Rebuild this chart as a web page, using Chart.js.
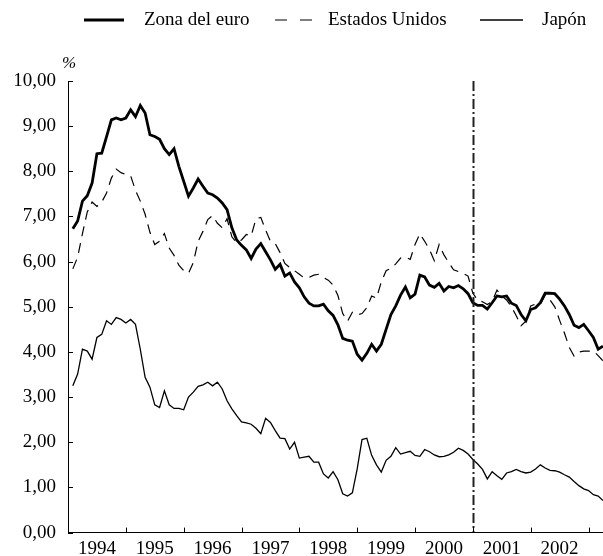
<!DOCTYPE html>
<html lang="es">
<head>
<meta charset="utf-8">
<title>Rendimientos de la deuda pública a largo plazo</title>
<script src="https://cdn.jsdelivr.net/npm/chart.js@4.4.1/dist/chart.umd.min.js"></script>
<style>
  html, body { margin: 0; padding: 0; background: #fff; }
</style>
</head>
<body>
<canvas id="yieldChart" width="603" height="556"></canvas>
<script>
// Datos mensuales, enero 1994 - marzo 2003 (%)
const years = ['1994', '1995', '1996', '1997', '1998', '1999', '2000', '2001', '2002'];
const yTicks = [0, 1, 2, 3, 4, 5, 6, 7, 8, 9, 10];
const euroStart = 84; // enero 2001, en meses desde enero 1994

const zonaEuro = [
  6.73, 6.90, 7.34, 7.46, 7.74, 8.39, 8.40, 8.77, 9.14, 9.18,
  9.14, 9.18, 9.36, 9.21, 9.46, 9.29, 8.81, 8.77, 8.71, 8.50,
  8.37, 8.50, 8.11, 7.78, 7.45, 7.63, 7.83, 7.67, 7.52, 7.48,
  7.41, 7.30, 7.15, 6.75, 6.48, 6.36, 6.26, 6.07, 6.28, 6.40,
  6.22, 6.04, 5.83, 5.94, 5.68, 5.75, 5.55, 5.42, 5.22, 5.08,
  5.02, 5.02, 5.06, 4.91, 4.81, 4.60, 4.30, 4.26, 4.24, 3.95,
  3.82, 3.97, 4.17, 4.02, 4.17, 4.50, 4.83, 5.02, 5.26, 5.44,
  5.20, 5.28, 5.70, 5.66, 5.48, 5.43, 5.52, 5.35, 5.45, 5.42,
  5.47, 5.40, 5.29, 5.09, 5.03, 5.03, 4.95, 5.09, 5.24, 5.22,
  5.24, 5.08, 5.03, 4.83, 4.69, 4.94, 4.98, 5.09, 5.30, 5.30,
  5.29, 5.17, 5.02, 4.83, 4.59, 4.54, 4.61, 4.47, 4.32, 4.06,
  4.13
];

const estadosUnidos = [
  5.84, 6.10, 6.62, 7.10, 7.32, 7.22, 7.32, 7.52, 7.85, 8.05,
  7.97, 7.93, 7.90, 7.58, 7.34, 7.05, 6.65, 6.38, 6.45, 6.62,
  6.30, 6.14, 5.92, 5.80, 5.74, 5.98, 6.45, 6.67, 6.93, 7.02,
  6.85, 6.75, 6.95, 6.55, 6.42, 6.48, 6.60, 6.57, 6.95, 6.98,
  6.70, 6.45, 6.40, 6.20, 5.96, 5.87, 5.80, 5.72, 5.64, 5.65,
  5.70, 5.72, 5.65, 5.59, 5.48, 5.25, 4.85, 4.68, 4.88, 4.82,
  4.85, 4.98, 5.24, 5.19, 5.55, 5.80, 5.85, 5.95, 6.08, 6.10,
  6.05, 6.38, 6.62, 6.45, 6.27, 6.02, 6.38, 6.15, 5.98, 5.82,
  5.78, 5.74, 5.68, 5.30, 5.15, 5.11, 5.05, 5.12, 5.37, 5.24,
  5.15, 5.00, 4.80, 4.58, 4.68, 5.02, 5.06, 5.05, 5.26, 5.15,
  5.00, 4.70, 4.42, 4.10, 3.91, 4.00, 4.02, 4.02, 4.02, 3.92,
  3.80
];

const japon = [
  3.25, 3.51, 4.06, 4.02, 3.84, 4.32, 4.39, 4.69, 4.61, 4.76,
  4.72, 4.64, 4.72, 4.61, 4.06, 3.44, 3.22, 2.83, 2.77, 3.14,
  2.83, 2.75, 2.75, 2.72, 3.00, 3.11, 3.24, 3.27, 3.33, 3.25,
  3.33, 3.18, 2.92, 2.74, 2.59, 2.45, 2.43, 2.40, 2.31, 2.19,
  2.53, 2.44, 2.26, 2.09, 2.08, 1.85, 2.00, 1.65, 1.67, 1.69,
  1.56, 1.56, 1.30, 1.21, 1.35, 1.17, 0.86, 0.81, 0.88, 1.41,
  2.06, 2.09, 1.71, 1.50, 1.34, 1.60, 1.69, 1.88, 1.74, 1.77,
  1.80, 1.71, 1.69, 1.84, 1.79, 1.72, 1.68, 1.69, 1.72, 1.78,
  1.87, 1.82, 1.74, 1.62, 1.52, 1.40, 1.19, 1.35, 1.26, 1.18,
  1.32, 1.35, 1.40, 1.35, 1.32, 1.34, 1.41, 1.50, 1.43, 1.38,
  1.37, 1.34, 1.28, 1.23, 1.13, 1.04, 0.97, 0.93, 0.84, 0.81,
  0.71
];

const FONT = "'Liberation Serif', 'Times New Roman', serif";
const toPoints = arr => arr.map((v, i) => ({ x: i + 1, y: v }));

// leyenda, marcas interiores de los ejes y línea de enero 2001
const decor = {
  id: 'decor',
  afterDatasetsDraw(chart) {
    const { ctx, chartArea: a, scales: { x } } = chart;
    const px = Math.round(x.getPixelForValue(euroStart)) + 0.5;
    ctx.save();
    ctx.strokeStyle = '#222';
    ctx.lineWidth = 2;
    ctx.setLineDash([10, 3, 2, 3]);
    ctx.beginPath();
    ctx.moveTo(px, a.top);
    ctx.lineTo(px, a.bottom);
    ctx.stroke();
    ctx.restore();
  },
  afterDraw(chart) {
    const { ctx, chartArea: a, scales: { x, y } } = chart;
    ctx.save();
    ctx.strokeStyle = '#000';
    ctx.lineWidth = 1;
    ctx.beginPath();
    yTicks.forEach(v => {
      const py = Math.round(y.getPixelForValue(v)) + 0.5;
      ctx.moveTo(a.left, py);
      ctx.lineTo(a.left + 5, py);
    });
    for (let k = 1; k <= years.length; k++) {
      const px = Math.round(x.getPixelForValue(k * 12)) + 0.5;
      ctx.moveTo(px, a.bottom);
      ctx.lineTo(px, a.bottom - 5);
    }
    ctx.stroke();

    // unidad del eje
    ctx.fillStyle = '#000';
    ctx.font = 'italic 17px ' + FONT;
    ctx.textAlign = 'center';
    ctx.textBaseline = 'alphabetic';
    ctx.fillText('%', a.left + 1, 68);

    // leyenda
    const ly = 20;
    const items = [
      { ds: chart.data.datasets[0], x0: 84, x1: 124, tx: 144, dash: [] },
      { ds: chart.data.datasets[1], x0: 275, x1: 312, tx: 328, dash: [12, 13] },
      { ds: chart.data.datasets[2], x0: 480, x1: 523, tx: 542, dash: [] }
    ];
    ctx.font = '19px ' + FONT;
    ctx.textAlign = 'left';
    ctx.textBaseline = 'middle';
    items.forEach(it => {
      ctx.lineWidth = it.ds.borderWidth;
      ctx.setLineDash(it.dash);
      ctx.beginPath();
      ctx.moveTo(it.x0, ly);
      ctx.lineTo(it.x1, ly);
      ctx.stroke();
      ctx.fillText(it.ds.label, it.tx, ly);
    });
    ctx.restore();
  }
};

const ctx = document.getElementById('yieldChart').getContext('2d');
new Chart(ctx, {
  type: 'line',
  data: {
    datasets: [
      {
        label: 'Zona del euro',
        data: toPoints(zonaEuro),
        borderColor: '#000',
        borderWidth: 2.8,
        pointRadius: 0,
        tension: 0
      },
      {
        label: 'Estados Unidos',
        data: toPoints(estadosUnidos),
        borderColor: '#000',
        borderWidth: 1.2,
        borderDash: [10, 7],
        pointRadius: 0,
        tension: 0
      },
      {
        label: 'Japón',
        data: toPoints(japon),
        borderColor: '#000',
        borderWidth: 1.3,
        pointRadius: 0,
        tension: 0
      }
    ]
  },
  options: {
    responsive: false,
    animation: false,
    events: [],
    layout: { padding: { top: 81, left: 0, right: 0, bottom: 0 } },
    plugins: { legend: { display: false }, tooltip: { enabled: false } },
    scales: {
      x: {
        type: 'linear',
        min: 0,
        max: 111,
        grid: { display: false, drawTicks: false },
        border: { display: true, color: '#000', width: 1 },
        afterBuildTicks: s => { s.ticks = years.map((_, i) => ({ value: i * 12 + 6 })); },
        afterFit: s => { s.height = 22; },
        ticks: {
          autoSkip: false,
          maxRotation: 0,
          padding: 5,
          color: '#000',
          font: { family: FONT, size: 19 },
          callback: (v, i) => years[i]
        }
      },
      y: {
        min: 0,
        max: 10,
        grid: { display: false, drawTicks: false },
        border: { display: true, color: '#000', width: 1 },
        afterBuildTicks: s => { s.ticks = yTicks.map(v => ({ value: v })); },
        afterFit: s => { s.width = 68; },
        ticks: {
          padding: 12,
          color: '#000',
          font: { family: FONT, size: 19 },
          callback: v => v.toFixed(2).replace('.', ',')
        }
      }
    }
  },
  plugins: [decor]
});
</script>
</body>
</html>
